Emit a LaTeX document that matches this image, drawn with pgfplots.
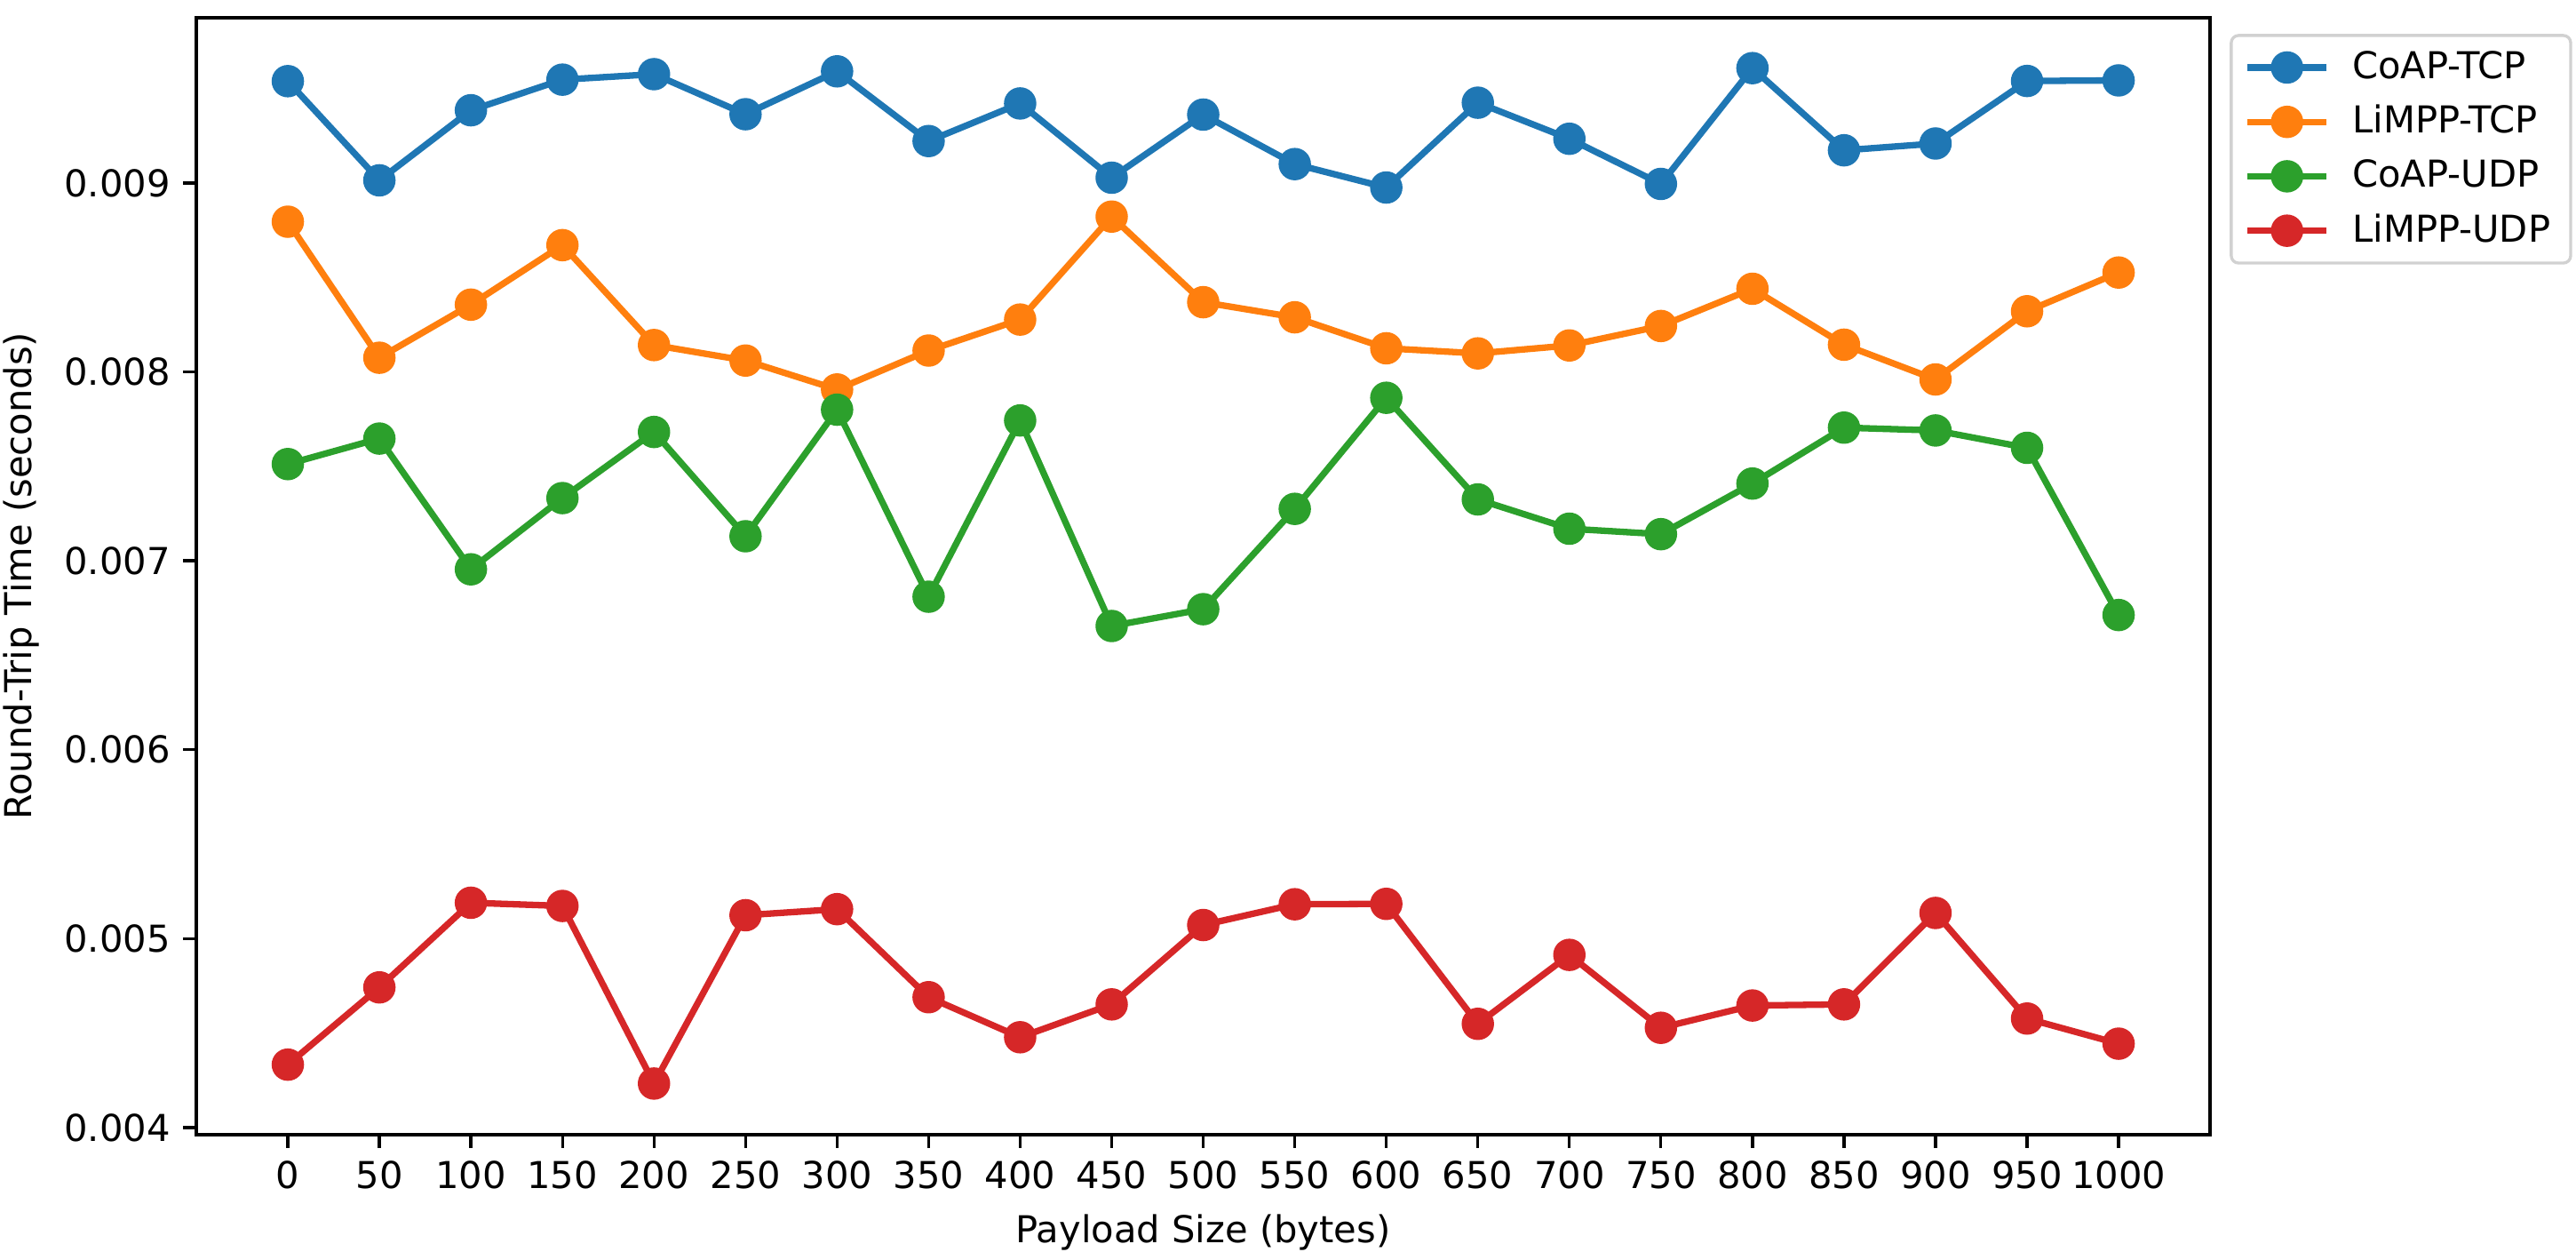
\documentclass[border=0pt]{standalone}
\usepackage{pgfplots}
\pgfplotsset{compat=1.18}
\usepackage{fontspec}
\setmainfont{DejaVu Sans}
\definecolor{cblue}{HTML}{1F77B4}
\definecolor{corange}{HTML}{FF7F0E}
\definecolor{cgreen}{HTML}{2CA02C}
\definecolor{cred}{HTML}{D62728}
\begin{document}
\fontsize{10bp}{12bp}\selectfont
\begin{tikzpicture}[x=1bp,y=1bp]
\path[use as bounding box] (-53.04,-33.6) rectangle (642.96,306.48);
\begin{axis}[
  at={(0,0)}, anchor=south west,
  scale only axis, width=544.1bp, height=301.7bp,
  xmin=-50, xmax=1050, ymin=0.003962, ymax=0.009875,
  xtick={0,50,...,1000},
  ytick={0.004,0.005,0.006,0.007,0.008,0.009},
  yticklabels={0.004,0.005,0.006,0.007,0.008,0.009},
  /pgf/number format/assume math mode=true,
  /pgf/number format/1000 sep={},
  scaled y ticks=false,
  tick align=outside, major tick length=3.5bp,
  tick style={black, line width=0.8bp},
  axis line style={line width=0.8bp},
  xtick pos=bottom, ytick pos=left,
  ticklabel style={font=\fontsize{10bp}{12bp}\selectfont},
  label style={font=\fontsize{10bp}{12bp}\selectfont},
  xlabel={Payload Size (bytes)},
  ylabel={Round-Trip Time (seconds)},
  legend style={at={(rel axis cs:1,1)}, anchor=north west, xshift=5.3bp, yshift=-4.4bp,
    draw=black!18, line width=0.8bp, rounded corners=2bp,
    font=\fontsize{10bp}{12bp}\selectfont, inner xsep=3.5bp, inner ysep=2.2bp, row sep=1.7bp,
    /tikz/every odd column/.append style={column sep=4.2bp}},
  legend cell align=left,
  legend image code/.code={\draw[mark repeat=2,mark phase=2] plot coordinates {(0bp,0bp) (10.7bp,0bp) (21.3bp,0bp)};},
  every axis plot/.append style={line width=1.75bp, mark=*, mark size=3.5bp, mark options={solid}},
]
\addplot[color=cblue, mark options={fill=cblue, draw=cblue}] coordinates {
(0,0.009539) (50,0.009014) (100,0.009385) (150,0.009547) (200,0.009576) (250,0.009364) (300,0.009591) (350,0.009222) (400,0.009421) (450,0.009028) (500,0.009362) (550,0.009100) (600,0.008976) (650,0.009425) (700,0.009234) (750,0.008995) (800,0.009608) (850,0.009173) (900,0.009209) (950,0.009540) (1000,0.009543)};
\addlegendentry{CoAP-TCP}
\addplot[color=corange, mark options={fill=corange, draw=corange}] coordinates {
(0,0.008795) (50,0.008075) (100,0.008356) (150,0.008671) (200,0.008142) (250,0.008060) (300,0.007907) (350,0.008113) (400,0.008277) (450,0.008822) (500,0.008369) (550,0.008289) (600,0.008125) (650,0.008098) (700,0.008140) (750,0.008243) (800,0.008440) (850,0.008144) (900,0.007960) (950,0.008321) (1000,0.008526)};
\addlegendentry{LiMPP-TCP}
\addplot[color=cgreen, mark options={fill=cgreen, draw=cgreen}] coordinates {
(0,0.007512) (50,0.007647) (100,0.006955) (150,0.007332) (200,0.007682) (250,0.007130) (300,0.007800) (350,0.006810) (400,0.007743) (450,0.006655) (500,0.006744) (550,0.007275) (600,0.007863) (650,0.007325) (700,0.007170) (750,0.007141) (800,0.007409) (850,0.007705) (900,0.007690) (950,0.007598) (1000,0.006713)};
\addlegendentry{CoAP-UDP}
\addplot[color=cred, mark options={fill=cred, draw=cred}] coordinates {
(0,0.004333) (50,0.004742) (100,0.005190) (150,0.005173) (200,0.004233) (250,0.005124) (300,0.005156) (350,0.004690) (400,0.004478) (450,0.004652) (500,0.005072) (550,0.005182) (600,0.005184) (650,0.004549) (700,0.004914) (750,0.004528) (800,0.004646) (850,0.004652) (900,0.005136) (950,0.004577) (1000,0.004444)};
\addlegendentry{LiMPP-UDP}
\end{axis}
\end{tikzpicture}
\end{document}
